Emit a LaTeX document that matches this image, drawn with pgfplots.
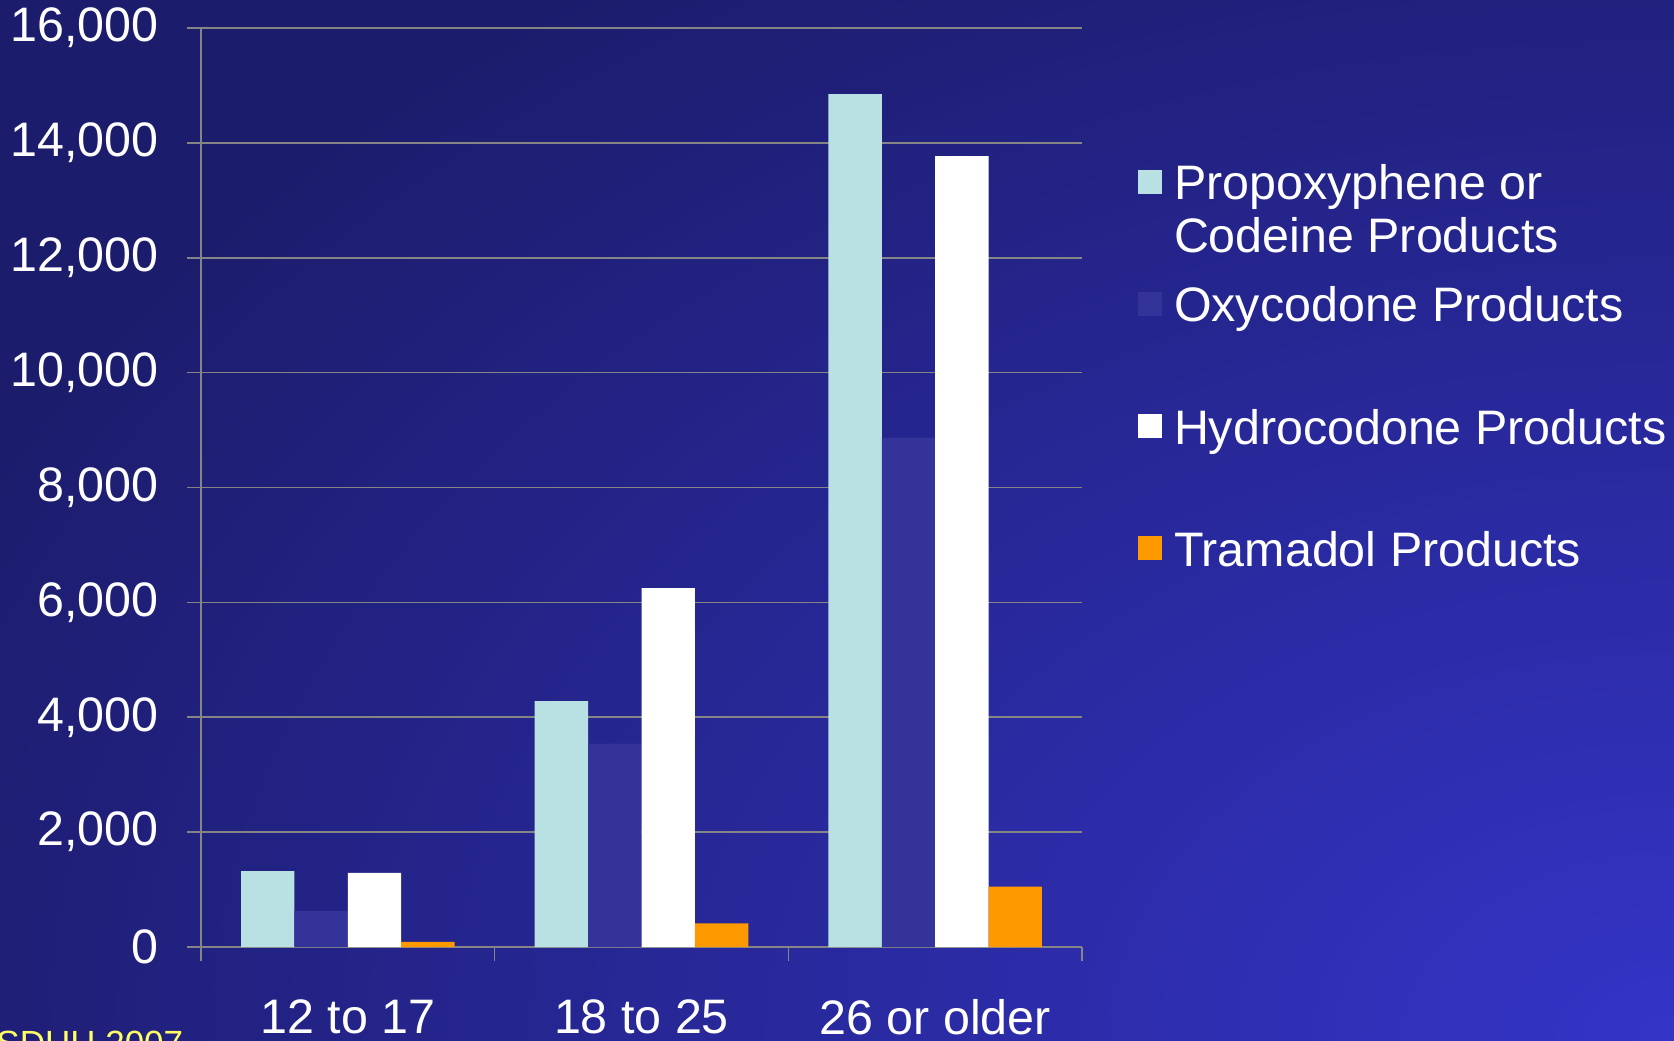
\documentclass[border=0pt]{standalone}
\usepackage{fontspec}
\setmainfont{Liberation Sans}
\usepackage{pgfplots}
\pgfplotsset{compat=1.18}
\definecolor{bgdark}{HTML}{1C1C6C}
\definecolor{bgbright}{HTML}{3434C8}
\definecolor{propo}{HTML}{B9E0E2}
\definecolor{oxy}{HTML}{343399}
\definecolor{tram}{HTML}{FF9900}
\definecolor{gridc}{HTML}{858585}
\definecolor{yel}{HTML}{FFFF66}
\begin{document}
\begin{tikzpicture}
\useasboundingbox (0,0) rectangle (837pt,520pt);
\clip (0,0) rectangle (837pt,520pt);
\fill[bgdark] (0,0) rectangle (837pt,520pt);
\shade[inner color=bgbright, outer color=bgdark] (837pt,0pt) ellipse (950pt and 650pt);
\node[anchor=base west, text=yel, font=\fontsize{17.5}{21}\selectfont, inner sep=0pt] at (-14.6pt,-7.8pt) {NSDUH 2007};
\begin{axis}[
  at={(100.5pt,46.5pt)}, anchor=south west,
  scale only axis, width=440.5pt, height=459.5pt,
  ybar=0pt, bar width=26.7pt,
  xmin=-0.5, xmax=2.5, ymin=0, ymax=16000,
  axis lines=left, axis line style={-, draw=gridc, line width=0.8pt},
  xtick={-0.5,0.5,1.5,2.5}, xticklabels={},
  extra x ticks={0,1,2},
  extra x tick labels={12 to 17,18 to 25,26 or older},
  extra x tick style={major tick length=0pt, grid=none, xticklabel style={yshift=-22.6pt, text depth=0pt}},
  ytick={0,2000,4000,6000,8000,10000,12000,14000,16000},
  scaled y ticks=false,
  /pgf/number format/.cd, 1000 sep={,}, assume math mode=true, /pgfplots/.cd,
  tick align=outside, major tick length=7pt,
  tick style={draw=gridc, line width=0.8pt},
  ymajorgrids, grid style={draw=gridc, line width=0.8pt},
  ticklabel style={font=\fontsize{24.2}{29}\selectfont, text=white},
  yticklabel style={xshift=-10.7pt},
  legend style={draw=none, fill=none, at={(1.0636,0.859)}, anchor=north west,
    inner sep=0pt, outer sep=0pt, row sep=35.7pt, column sep=6pt,
    font=\fontsize{24.2}{26.7}\selectfont, text=white,
    nodes={inner sep=0pt, text height=17.2pt, text depth=4.5pt}},
  legend cell align=left,
  legend image code/.code={\path[fill=none, draw=none] (0pt,2.6pt) rectangle (12pt,14.6pt);
    \fill[#1, overlay] (0pt,-3.4pt) rectangle (12pt,8.6pt);},
]
\addplot[fill=propo, draw=none] coordinates {(0,1320) (1,4280) (2,14850)};
\addlegendentry{\parbox[t]{240pt}{\raggedright Propoxyphene or\\Codeine Products}}
\addplot[fill=oxy, draw=none] coordinates {(0,630) (1,3540) (2,8870)};
\addlegendentry{Oxycodone Products}
\addplot[fill=white, draw=none] coordinates {(0,1290) (1,6250) (2,13770)};
\addlegendentry{Hydrocodone Products}
\addplot[fill=tram, draw=none] coordinates {(0,90) (1,410) (2,1050)};
\addlegendentry{Tramadol Products}
\end{axis}
\end{tikzpicture}
\end{document}
